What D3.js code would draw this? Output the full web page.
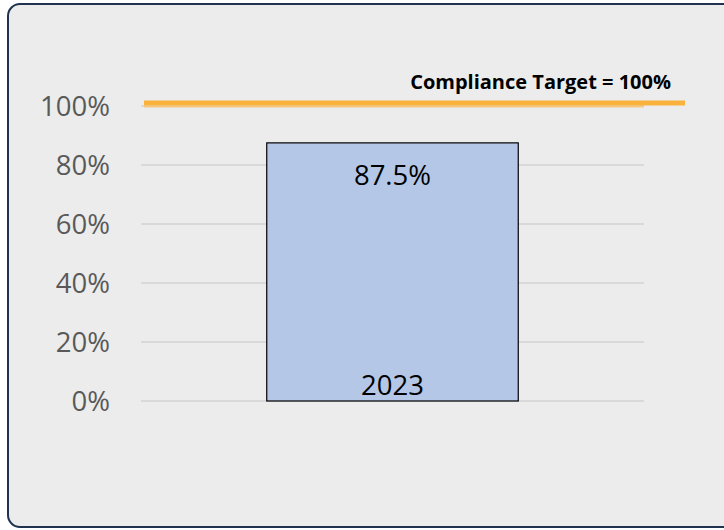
<!DOCTYPE html>
<html>
<head>
<meta charset="utf-8">
<script src="https://cdn.jsdelivr.net/npm/d3@7"></script>
<style>
  body { margin: 0; background: #ffffff; }
  svg { display: block; }
</style>
</head>
<body>
<div id="chart"></div>
<script>
// data
var years = ["2023"];
var compliance = [0.875];
var yTicks = [0, 0.2, 0.4, 0.6, 0.8, 1.0];
var target = 1.0;
var targetLabel = "Compliance Target = 100%";

var width = 724, height = 530;
var margin = { top: 106, right: 80, bottom: 129, left: 141 };

var svg = d3.select("#chart")
    .append("svg")
    .attr("width", width)
    .attr("height", height);

// panel background + rounded border
svg.append("rect")
    .attr("x", 8).attr("y", 4)
    .attr("width", 740).attr("height", 523)
    .attr("rx", 12).attr("ry", 12)
    .attr("fill", "#ececec")
    .attr("stroke", "#1f3350")
    .attr("stroke-width", 2);

var x = d3.scaleBand()
    .domain(years)
    .range([margin.left, 644])
    .paddingInner(0)
    .paddingOuter(0.5);

var y = d3.scaleLinear()
    .domain([0, 1])
    .range([401, margin.top]);

// gridlines
svg.append("g")
    .selectAll("line")
    .data(yTicks)
    .enter()
    .append("line")
    .attr("x1", margin.left)
    .attr("x2", 644)
    .attr("y1", function(d) { return y(d); })
    .attr("y2", function(d) { return y(d); })
    .attr("stroke", "#d9d9d9")
    .attr("stroke-width", 2);

// y axis labels
var yAxis = svg.append("g")
    .attr("transform", "translate(" + (margin.left - 31) + ",0)")
    .call(d3.axisLeft(y).tickValues(yTicks).tickFormat(d3.format(".0%")).tickSize(0).tickPadding(0));
yAxis.select(".domain").remove();
yAxis.selectAll("text")
    .attr("dy", "0.36em")
    .style("font-family", "'Open Sans', sans-serif")
    .style("font-size", "27.5px")
    .style("fill", "#595959");

// bar
svg.selectAll("rect.bar")
    .data(compliance)
    .enter()
    .append("rect")
    .attr("class", "bar")
    .attr("x", function(d, i) { return x(years[i]); })
    .attr("y", function(d) { return y(d); })
    .attr("width", x.bandwidth())
    .attr("height", function(d) { return y(0) - y(d); })
    .attr("fill", "#b4c7e7")
    .attr("stroke", "#000000")
    .attr("stroke-width", 1.2);

// value label
svg.selectAll("text.val")
    .data(compliance)
    .enter()
    .append("text")
    .attr("class", "val")
    .attr("x", function(d, i) { return x(years[i]) + x.bandwidth() / 2; })
    .attr("y", function(d) { return y(d) + 42; })
    .attr("text-anchor", "middle")
    .style("font-family", "'Open Sans', sans-serif")
    .style("font-size", "27.5px")
    .style("fill", "#000000")
    .text(function(d) { return d3.format(".1%")(d); });

// category label inside bar bottom
svg.selectAll("text.cat")
    .data(years)
    .enter()
    .append("text")
    .attr("class", "cat")
    .attr("x", function(d) { return x(d) + x.bandwidth() / 2; })
    .attr("y", y(0) - 6)
    .attr("text-anchor", "middle")
    .style("font-family", "'Open Sans', sans-serif")
    .style("font-size", "27.5px")
    .style("fill", "#000000")
    .text(function(d) { return d; });

// compliance target line
svg.append("line")
    .attr("x1", 144).attr("x2", 644)
    .attr("y1", y(target) + 0.5).attr("y2", y(target) + 0.5)
    .attr("stroke", "#f8c77e")
    .attr("stroke-width", 2);
svg.append("line")
    .attr("x1", 144).attr("x2", 685)
    .attr("y1", y(target) - 3).attr("y2", y(target) - 3)
    .attr("stroke", "#fbb23d")
    .attr("stroke-width", 5);

svg.append("text")
    .attr("x", 671)
    .attr("y", 89)
    .attr("text-anchor", "end")
    .style("font-family", "'Open Sans', sans-serif")
    .style("font-weight", "bold")
    .style("font-size", "20px")
    .style("fill", "#000000")
    .text(targetLabel);
</script>
</body>
</html>
